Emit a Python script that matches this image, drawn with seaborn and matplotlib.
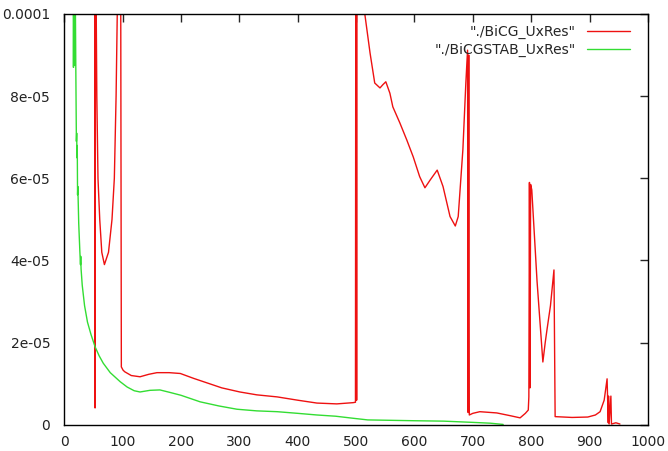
import numpy as np
import pandas as pd
import matplotlib
matplotlib.use("Agg")
import matplotlib.pyplot as plt
import seaborn as sns

# BiCG residual (values above 1e-4 are clipped by the axes)
bicg_iter = [1, 30, 50, 52, 53, 54, 55, 56, 58, 61, 64.5, 69, 76, 82, 86, 89, 91, 93,
             95, 97, 98, 101, 104, 115, 130, 145, 159, 180, 199, 222, 245, 270, 301,
             330, 365, 400, 433, 467, 495, 499, 500, 501, 502, 508, 515, 524, 532, 541,
             546, 551, 558, 563, 575, 587, 598, 609, 618, 627, 639, 649, 661, 670, 675,
             683, 688, 691, 692, 693, 694, 700, 712, 741, 765, 781, 790, 795, 796, 797,
             798, 799, 801, 810, 820, 824, 827, 833, 839, 841, 870, 897, 910, 918, 925,
             930, 932, 932.5, 933.5, 936.5, 937.5, 945, 952]
bicg_res = [5e-4, 3e-4, 2e-4, 1.5e-4, 0.41e-5, 1.5e-4, 1.0e-4, 8e-5, 6e-5, 5e-5, 4.2e-5,
            3.9e-5, 4.2e-5, 5e-5, 6e-5, 8e-5, 1.0e-4, 1.3e-4, 1.5e-4, 1.0e-4, 1.41e-5,
            1.33e-5, 1.29e-5, 1.2e-5, 1.17e-5, 1.23e-5, 1.27e-5, 1.27e-5, 1.25e-5,
            1.13e-5, 1.02e-5, 0.9e-5, 0.8e-5, 0.73e-5, 0.68e-5, 0.6e-5, 0.53e-5, 0.51e-5,
            0.54e-5, 0.55e-5, 2e-4, 0.6e-5, 2e-4, 1.3e-4, 1.0e-4, 9.05e-5, 8.32e-5,
            8.2e-5, 8.28e-5, 8.35e-5, 8.07e-5, 7.74e-5, 7.35e-5, 6.93e-5, 6.52e-5,
            6.04e-5, 5.77e-5, 5.96e-5, 6.2e-5, 5.8e-5, 5.07e-5, 4.84e-5, 5.07e-5, 6.7e-5,
            8.3e-5, 9.12e-5, 0.3e-5, 9.0e-5, 0.24e-5, 0.28e-5, 0.32e-5, 0.29e-5,
            0.22e-5, 0.17e-5, 0.28e-5, 0.36e-5, 0.68e-5, 5.9e-5, 0.9e-5, 5.85e-5,
            5.72e-5, 3.5e-5, 1.53e-5, 2.0e-5, 2.31e-5, 2.9e-5, 3.77e-5, 0.2e-5, 0.18e-5,
            0.19e-5, 0.24e-5, 0.32e-5, 0.6e-5, 1.12e-5, 0.05e-5, 0.7e-5, 0.02e-5,
            0.7e-5, 0.02e-5, 0.05e-5, 0.02e-5]

# BiCGSTAB residual
stab_iter = [12, 15, 16, 17, 18, 19, 20, 21, 21.5, 22, 22.5, 23, 23.5, 24, 25, 27, 28,
             28.5, 29, 31, 35, 40, 46, 53, 60, 67, 79, 96, 108, 120, 130, 147, 164, 181,
             200, 233, 265, 296, 330, 365, 400, 433, 465, 495, 520, 560, 600, 650, 700,
             730, 752]
stab_res = [2.0e-4, 1.3e-4, 8.7e-5, 1.15e-4, 8.75e-5, 1.08e-4, 8.7e-5, 6.9e-5, 7.1e-5,
            6.5e-5, 6.8e-5, 5.6e-5, 5.8e-5, 5.5e-5, 4.9e-5, 4.2e-5, 3.9e-5, 4.1e-5,
            3.8e-5, 3.4e-5, 2.9e-5, 2.5e-5, 2.2e-5, 1.9e-5, 1.68e-5, 1.5e-5, 1.27e-5,
            1.05e-5, 0.92e-5, 0.83e-5, 0.80e-5, 0.84e-5, 0.85e-5, 0.79e-5, 0.72e-5,
            0.56e-5, 0.46e-5, 0.38e-5, 0.34e-5, 0.32e-5, 0.28e-5, 0.24e-5, 0.21e-5,
            0.16e-5, 0.12e-5, 0.11e-5, 0.10e-5, 0.09e-5, 0.06e-5, 0.04e-5, 0.01e-5]

labels = ['"./BiCG_UxRes"', '"./BiCGSTAB_UxRes"']
colors = ["#ee1111", "#33dd33"]

x_ticks = list(range(0, 1001, 100))
y_ticks = [0, 2e-5, 4e-5, 6e-5, 8e-5, 1e-4]
y_tick_labels = ["0", "2e-05", "4e-05", "6e-05", "8e-05", "0.0001"]

sns.set_style("white")
plt.rcParams["font.family"] = ["DejaVu Sans"]
plt.rcParams["font.size"] = 10

fig = plt.figure(figsize=(6.68, 4.51), dpi=100)
ax = fig.add_axes([0.096, 0.058, 0.874, 0.911])

df1 = pd.DataFrame({"it": bicg_iter, "res": bicg_res})
df2 = pd.DataFrame({"it": stab_iter, "res": stab_res})
sns.lineplot(data=df1, x="it", y="res", ax=ax, color=colors[0], lw=1, label=labels[0])
sns.lineplot(data=df2, x="it", y="res", ax=ax, color=colors[1], lw=1, label=labels[1])

ax.set_xlim(0, 1000)
ax.set_ylim(0, 1e-4)
ax.set_xticks(x_ticks)
ax.set_yticks(y_ticks)
ax.set_yticklabels(y_tick_labels)
ax.set_xlabel("")
ax.set_ylabel("")
ax.tick_params(direction="in", length=6, width=1, top=True, right=True,
               labelsize=10, labelcolor="#222222")
ax.tick_params(axis="y", pad=10)
ax.tick_params(axis="x", pad=7)
for s in ax.spines.values():
    s.set_visible(True)
    s.set_color("black")
    s.set_linewidth(1)

ax.legend(loc="upper right", frameon=False, markerfirst=False, handlelength=3.1,
          labelspacing=0.3, handletextpad=0.8, borderaxespad=0.2,
          bbox_to_anchor=(0.983, 0.995), fontsize=10)

fig.savefig("out.png", dpi=100)
